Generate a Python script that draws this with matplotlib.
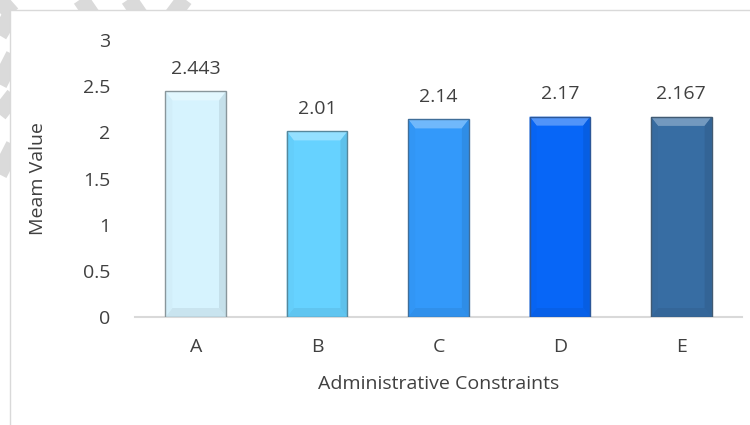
import matplotlib.pyplot as plt
from matplotlib.patches import Rectangle, Polygon
from matplotlib.lines import Line2D
from matplotlib.colors import to_rgb
import numpy as np

# data
categories = ['A', 'B', 'C', 'D', 'E']
mean_values = [2.443, 2.01, 2.14, 2.17, 2.167]
value_labels = ['2.443', '2.01', '2.14', '2.17', '2.167']
bar_colors = ['#D6F3FE', '#66D2FF', '#3399FA', '#0766F7', '#376DA3']

plt.rcParams['font.family'] = ['Open Sans', 'DejaVu Sans']
text_color = '#404040'
fs = 14

W, H = 750, 425
fig = plt.figure(figsize=(W / 100, H / 100), dpi=100)

def px(x, y):
    return x / W, 1 - y / H

# watermark strokes peeking out in the page margin
strokes = [(76, -8, 98, 24), (124, -8, 146, 24), (190, -8, 166, 24),
           (14, 10, -4, 40), (14, 55, -4, 90), (14, 95, -4, 118), (14, 145, -4, 180),
           (-4, -4, 12, 14)]
for (x0, y0, x1, y1) in strokes:
    (a, b), (c, d) = px(x0, y0), px(x1, y1)
    fig.add_artist(Line2D([a, c], [b, d], color='#DADADA', lw=12,
                          solid_capstyle='butt', zorder=0))

# chart area (white with light border)
fig.add_artist(Rectangle(px(10, 440), (W + 20) / W, 430 / H, facecolor='white',
                         edgecolor='#D9D9D9', lw=1, zorder=1))

ax = fig.add_axes([135 / W, (H - 317) / H, 607 / W, 277 / H], zorder=2)
ax.set_facecolor('none')
x = np.arange(len(categories))
ax.set_xlim(-0.5, len(categories) - 0.5)
ax.set_ylim(0, 3)

bar_w = 0.5
ax.bar(x, mean_values, width=bar_w, color=bar_colors, linewidth=0, zorder=3)

# bevel effect
fig.canvas.draw()
inv = ax.transData.inverted()
p0 = inv.transform((0, 0))
p1 = inv.transform((7, 9))
bx, by = p1[0] - p0[0], p1[1] - p0[1]

def mix(c, t, amt):
    c = np.array(to_rgb(c)); t = np.array(to_rgb(t))
    return tuple(c + (t - c) * amt)

for xi, v, col in zip(x, mean_values, bar_colors):
    l, r = xi - bar_w / 2, xi + bar_w / 2
    top = [(l, v), (r, v), (r - bx, v - by), (l + bx, v - by)]
    bot = [(l, 0), (r, 0), (r - bx, by), (l + bx, by)]
    left = [(l, 0), (l + bx, by), (l + bx, v - by), (l, v)]
    right = [(r, 0), (r - bx, by), (r - bx, v - by), (r, v)]
    ax.add_patch(Polygon(top, closed=True, facecolor=mix(col, 'white', 0.3), lw=0, zorder=4))
    ax.add_patch(Polygon(bot, closed=True, facecolor=mix(col, 'black', 0.06), lw=0, zorder=4))
    ax.add_patch(Polygon(left, closed=True, facecolor=mix(col, 'black', 0.02), lw=0, zorder=4))
    ax.add_patch(Polygon(right, closed=True, facecolor=mix(col, 'black', 0.08), lw=0, zorder=4))
    ax.add_patch(Rectangle((l, 0), bar_w, v, facecolor='none', edgecolor=mix(col, '#4A4A4A', 0.55),
                           lw=1.0, zorder=5))

for xi, v, lab in zip(x, mean_values, value_labels):
    ax.annotate(lab, (xi, v), xytext=(0, 10), textcoords='offset points',
                ha='center', va='bottom', fontsize=fs, color=text_color)

for s in ['top', 'right', 'left']:
    ax.spines[s].set_visible(False)
ax.spines['bottom'].set_color('#D9D9D9')
ax.spines['bottom'].set_linewidth(1.5)
ax.spines['bottom'].set_zorder(2)

ax.set_xticks(x)
ax.set_xticklabels(categories)
ax.set_yticks([0, 0.5, 1, 1.5, 2, 2.5, 3])
ax.set_yticklabels(['0', '0.5', '1', '1.5', '2', '2.5', '3'])
ax.tick_params(axis='both', length=0, labelsize=fs, labelcolor=text_color)
ax.tick_params(axis='y', pad=18)
ax.tick_params(axis='x', pad=15)

ax.set_xlabel('Administrative Constraints', fontsize=fs, color=text_color, labelpad=14)
ax.set_ylabel('Meam Value', fontsize=fs, color=text_color, labelpad=26)

fig.savefig('out.png', dpi=100)
